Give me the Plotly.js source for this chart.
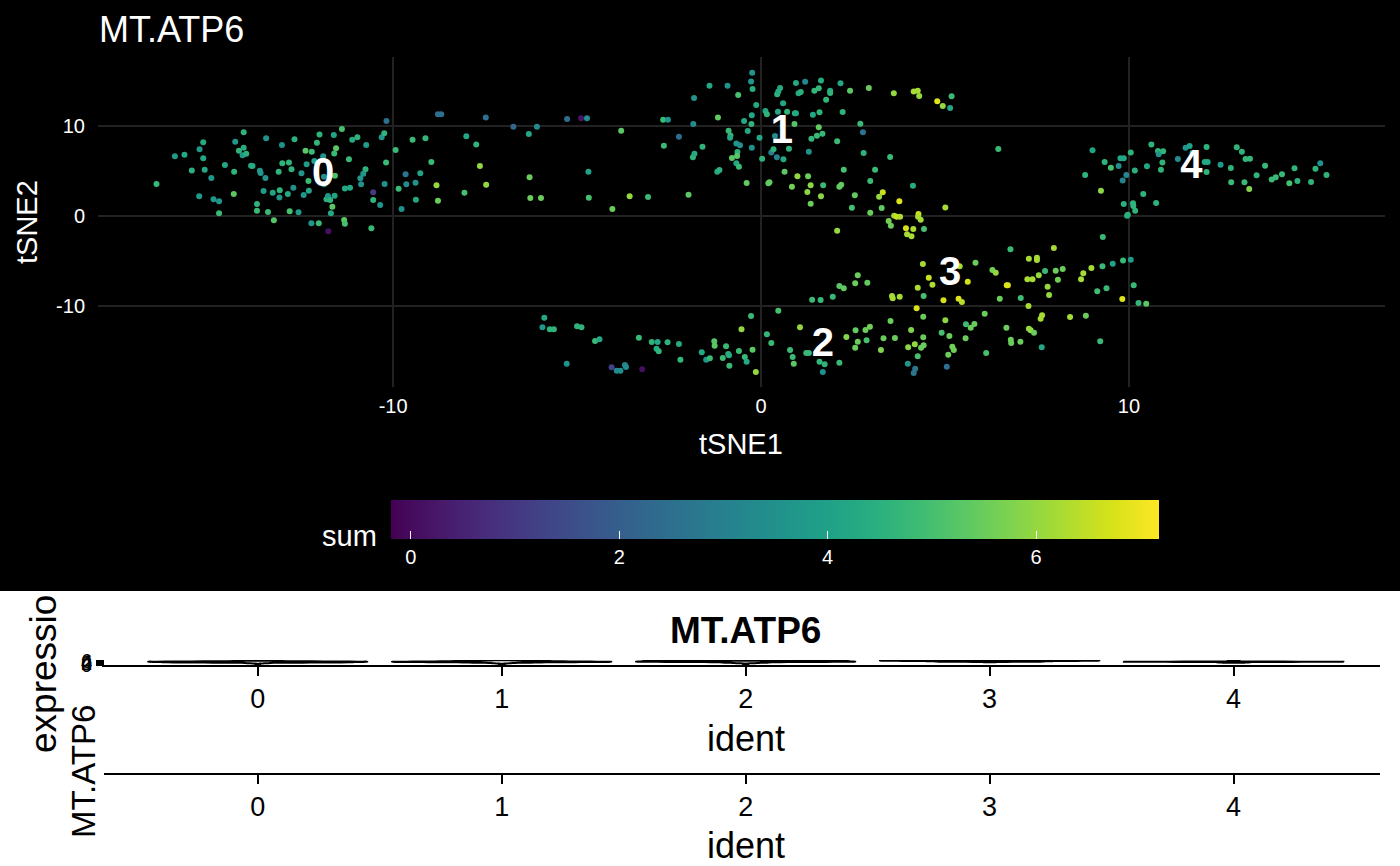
<!DOCTYPE html>
<html>
<head>
<meta charset="utf-8">
<script src="https://cdn.plot.ly/plotly-3.0.1.min.js"></script>
<style>
  html, body { margin: 0; padding: 0; background: #fff; }
  #plot { width: 1400px; height: 866px; }
</style>
</head>
<body>
<div id="plot"></div>
<script>
const leftCells = [
  [-16.43,3.56,4.8],[-15.93,6.63,3.8],[-15.67,6.81,4.2],[-15.47,5.07,4.5],[-15.26,7.41,3.7],[-15.16,8.19,4.3],
  [-15.16,6.41,4.2],[-15.12,5.15,4.2],[-15.27,2.19,3.8],[-14.94,4.22,3.7],[-14.88,1.85,3.7],[-14.73,1.63,3.6],
  [-14.73,0.3,4.8],[-14.57,5.67,4.2],[-14.32,4.93,4.6],[-14.33,2.44,5.3],[-14.29,8.26,3.7],[-14.19,7.26,4.6],
  [-14.06,9.3,4.6],[-14.06,7.59,4.4],[-14.09,6.74,3.8],[-13.99,6.93,4.5],[-13.86,5.59,4.2],[-13.82,5.56,4.3],
  [-13.62,5.04,3.7],[-13.6,4.78,3.7],[-13.47,4.22,3.6],[-13.52,2.78,3.8],[-13.45,8.63,3.5],[-13.27,2.59,4.1],
  [-13.08,2.85,4.6],[-13.09,2.07,3.6],[-13.11,4.93,4.6],[-13.02,7.89,3.5],[-13.01,5.85,4.6],[-12.83,5.96,4.6],
  [-12.76,5.19,4.6],[-12.86,2.44,4.2],[-12.71,3.15,3.5],[-12.68,8.52,4.5],[-13.7,1.33,4.6],[-13.7,0.59,4.8],
  [-13.4,0.44,4.8],[-13.24,-0.48,5.2],[-12.81,0.52,5.0],[-12.57,0.41,3.8]
];
const midLeftCells = [
  [-12.49,4.74,3.7],[-12.35,5.74,3.8],[-12.3,3.89,4.8],[-12.29,2.81,4.2],[-12.43,2.33,3.7],[-12.38,7.26,5.3],
  [-12.21,7.15,4.8],[-12.07,8.15,4.7],[-12.0,9.07,4.6],[-12.14,6.11,4.0],[-11.9,6.63,3.6],[-11.88,4.37,3.5],
  [-11.88,3.52,3.6],[-11.61,9.0,4.1],[-11.39,9.67,5.0],[-11.55,7.52,5.3],[-11.6,6.96,4.8],[-11.58,4.48,5.0],
  [-11.81,1.85,4.5],[-11.77,2.22,3.7],[-11.71,1.78,4.6],[-11.59,2.26,4.1],[-11.65,1.04,5.3],[-11.69,0.3,4.2],
  [-11.76,-1.7,0.1],[-12.02,-0.81,4.8],[-12.22,-0.81,3.7],[-11.33,-0.44,5.3],[-11.31,-0.85,5.0],[-11.31,3.07,4.2],
  [-11.17,3.15,4.2],[-11.2,6.3,4.8],[-11.11,8.48,4.3],[-10.97,8.74,4.6],[-10.73,7.89,3.8],[-10.75,5.19,4.6],
  [-10.81,4.7,3.6],[-10.89,4.19,3.6],[-10.87,3.52,3.5],[-10.54,1.78,4.6],[-10.54,2.63,1.0],[-10.35,1.22,3.6],
  [-10.59,-1.37,4.8],[-10.23,3.56,3.5],[-10.19,5.96,4.8],[-10.31,8.74,3.6],[-10.24,9.19,4.6],[-10.18,10.56,2.5],
  [-9.93,7.33,4.8],[-9.85,3.04,4.8],[-9.77,0.78,3.5],[-9.66,4.63,2.7],[-9.64,3.52,3.3],[-9.47,8.48,4.8],
  [-9.12,8.63,4.7],[-9.39,3.7,3.5],[-9.26,4.74,4.1],[-9.38,1.81,4.2],[-8.96,6.0,4.8],[-8.82,3.41,6.0],
  [-8.78,1.7,5.5],[-8.78,11.3,2.5],[-8.69,11.3,2.5],[-8.01,8.85,4.2],[-7.74,7.96,4.6],[-7.64,5.56,6.0],
  [-8.06,2.59,5.0],[-7.47,3.48,6.0],[-7.48,10.96,2.5],[-6.73,9.93,2.2],[-6.31,9.11,4.2],[-6.09,9.93,3.3],
  [-6.29,4.3,5.5],[-6.27,2.0,5.5],[-5.98,2.0,5.5]
];
const topCells = [
  [-5.27,10.78,2.4],[-4.89,10.85,0.2],[-4.73,10.85,3.4],[-3.8,9.48,5.3],[-4.69,4.93,4.0],[-4.68,2.04,5.0],
  [-4.04,0.78,5.5],[-3.57,2.19,6.0],[-3.07,2.11,4.8],[-2.66,10.7,4.8],[-2.53,10.7,3.6],[-2.64,7.81,4.8],
  [-2.23,8.81,2.4],[-1.97,2.37,5.3],[-1.82,13.11,3.6],[-1.84,10.22,3.4],[-1.59,7.7,4.6],[-1.85,6.52,4.6],
  [-1.81,6.93,4.3],[-1.4,14.48,4.2],[-1.17,10.96,5.4],[-1.19,4.93,4.2],[-1.13,5.11,4.5],[-0.91,14.48,3.5],
  [-0.62,13.44,5.0],[-0.88,9.48,4.8],[-0.83,8.96,4.7],[-0.84,8.7,4.2],[-0.67,8.07,3.6],[-0.57,7.85,3.4],
  [-0.64,7.11,4.6],[-0.65,6.67,5.3],[-0.79,6.44,5.3],[-0.67,5.85,4.2],[-0.6,5.48,4.8],[-0.46,10.56,4.2],
  [-0.36,9.44,4.2],[-0.25,11.19,4.2],[-0.26,10.22,4.6],[-0.24,15.93,3.6],[-0.27,14.96,3.6],[-0.23,14.11,4.4],
  [-0.13,12.33,4.2],[-0.25,7.59,3.5],[-0.04,8.7,4.2],[0.03,6.37,4.6],[-0.39,3.67,5.4],[0.2,3.63,5.4],
  [0.23,3.74,5.4],[0.12,11.67,4.2],[0.16,11.3,4.6],[0.28,7.07,3.0],[0.34,7.41,4.6],[0.38,8.89,3.4],
  [0.43,6.52,3.0],[0.61,6.3,4.2],[0.46,11.59,4.2],[0.6,12.52,4.2],[0.71,11.59,4.6],[0.44,13.52,4.6],
  [0.47,13.85,4.3],[0.52,14.22,4.3],[0.95,14.78,4.2],[1.2,14.93,3.2],[1.02,13.63,4.2],[1.08,13.78,4.5],
  [0.92,11.41,4.6],[0.95,11.41,4.2],[0.91,10.22,5.2],[0.76,7.48,4.6],[0.64,4.93,5.3],[0.99,4.41,6.0],
  [0.84,3.26,5.6],[1.28,4.41,5.5],[1.35,3.41,5.9],[1.26,2.67,5.9],[1.35,1.37,5.5],[1.3,7.15,3.5],
  [1.37,8.59,4.7],[1.41,11.26,4.2],[1.59,11.52,4.6],[1.57,9.85,5.4],[1.52,8.93,4.8],[1.67,9.15,4.7],
  [1.57,14.19,4.7],[1.45,13.93,4.7],[1.63,15.07,4.3],[1.77,12.93,4.7],[1.88,13.93,4.3],[1.88,13.67,4.6],
  [2.16,14.74,4.2],[2.22,11.56,4.6],[2.42,13.93,5.3],[2.93,14.22,5.5],[2.07,8.3,4.8],[1.69,3.41,4.8],
  [1.63,2.19,5.9],[2.25,5.15,5.0],[2.13,3.26,5.4],[2.18,3.48,5.4],[2.55,2.3,5.4],[2.47,0.93,5.0],
  [2.7,10.26,4.8],[2.77,9.3,2.6],[2.79,7.0,4.6],[3.1,5.15,4.8],[2.97,3.89,4.8],[2.97,0.37,5.5],
  [3.51,6.56,4.8],[3.61,13.63,6.0],[4.15,13.85,6.2],[4.26,13.93,6.2],[4.3,13.33,6.0],[4.79,12.74,6.8],
  [4.94,12.22,6.0],[5.14,12.0,4.2],[5.18,13.3,4.8],[3.21,2.15,6.0],[3.31,2.63,6.6],[3.28,0.89,5.4],
  [3.76,1.63,6.8],[4.13,3.37,4.3],[3.62,0.04,6.2],[3.69,-0.07,6.6],[3.78,-0.07,6.3],[3.47,-0.56,5.6],
  [3.53,-1.07,5.5],[3.94,-1.37,6.7],[4.14,-1.44,6.3],[3.97,-2.04,6.2],[4.09,-2.26,6.2],[4.28,0.22,6.6],
  [4.27,-0.07,6.3],[4.34,-0.41,6.2],[4.43,-1.44,5.0],[5.01,0.96,6.2],[2.07,-1.63,6.0]
];
const rightCells = [
  [6.45,7.44,4.8],[9.01,7.3,4.1],[8.81,4.56,4.6],[9.24,2.81,5.9],[9.34,6.0,4.6],[9.51,5.37,5.0],
  [9.72,5.56,3.4],[9.77,6.41,4.2],[9.86,6.41,4.2],[10.05,7.07,4.6],[9.83,3.96,3.0],[9.93,4.56,3.2],
  [10.16,5.07,4.5],[10.39,2.44,4.6],[9.86,1.33,4.5],[10.11,1.41,4.6],[10.12,1.11,4.6],[10.17,0.59,4.6],
  [9.95,0.04,4.5],[9.97,0.15,4.5],[10.49,5.52,4.2],[10.61,7.96,4.6],[10.74,1.44,4.6],[10.79,7.22,4.6],
  [10.81,6.85,3.5],[10.93,7.19,4.6],[10.91,5.96,4.6],[10.87,5.15,4.6],[11.33,6.33,3.4],[11.54,7.59,3.6],
  [11.65,7.78,4.0],[11.73,7.0,4.6],[12.11,7.67,4.6],[12.06,6.0,4.2],[12.14,6.0,4.2],[12.11,4.89,4.6],
  [12.49,5.7,3.8],[12.77,5.33,4.6],[12.78,3.74,4.8],[12.93,7.63,4.6],[13.07,7.15,4.6],[13.14,3.74,4.8],
  [13.17,6.33,4.7],[13.29,6.37,4.7],[13.27,3.0,5.8],[13.47,4.52,4.6],[13.7,5.59,4.8],[13.88,4.07,4.8],
  [13.99,4.3,4.8],[14.16,4.63,4.8],[14.36,3.63,5.0],[14.5,5.3,4.6],[14.58,3.89,4.6],[14.95,3.78,4.6],
  [15.07,5.26,4.6],[15.2,5.85,3.5],[15.37,4.56,4.6]
];
const lowerLeftCells = [
  [-5.89,-11.3,4.2],[-5.94,-12.37,3.7],[-5.74,-12.59,4.6],[-5.63,-12.59,4.6],[-5.0,-12.26,4.6],[-4.88,-12.37,4.6],
  [-4.51,-13.89,4.8],[-4.39,-13.7,4.2],[-5.28,-16.41,3.5],[-4.06,-16.81,1.2],[-3.92,-17.19,3.3],[-3.82,-17.19,3.4],
  [-3.7,-16.56,3.0],[-3.67,-16.78,3.3],[-3.23,-17.04,0.1],[-3.32,-13.52,4.8],[-2.97,-14.0,4.6],[-2.81,-14.0,4.2],
  [-2.54,-14.04,4.6],[-2.23,-14.22,4.3],[-2.84,-14.74,4.3],[-2.78,-15.04,4.6],[-2.19,-15.96,4.7],[-1.61,-15.15,4.2],
  [-1.49,-15.96,3.7],[-1.39,-15.81,4.8],[-1.27,-13.93,5.2],[-1.26,-14.41,5.3],[-0.95,-14.48,4.8],[-1.04,-15.78,4.8],
  [-0.89,-15.33,4.6],[-0.87,-15.48,4.3],[-0.86,-16.63,4.8],[-0.6,-15.0,4.8],[-0.44,-15.67,4.8],[-0.39,-16.19,4.2],
  [-0.23,-14.85,5.3],[-0.14,-17.33,6.0],[-0.53,-12.59,6.0],[-0.27,-11.11,4.8],[0.47,-10.52,5.0],[0.16,-13.15,4.7],
  [0.28,-14.11,4.8],[0.79,-14.89,4.8],[0.86,-15.67,4.8],[0.89,-16.41,5.3],[1.06,-12.37,6.0],[1.23,-15.22,4.8],
  [1.3,-15.22,4.8],[1.39,-9.3,4.8],[1.62,-9.33,4.8],[1.59,-16.19,4.7]
];
const lowerRightCells = [
  [1.95,-8.96,4.8],[1.68,-17.33,3.5],[1.73,-16.48,4.6],[2.13,-16.3,4.8],[2.13,-7.78,5.3],[2.25,-8.04,5.4],
  [2.56,-7.48,5.5],[2.63,-6.59,5.5],[2.89,-7.41,5.4],[2.57,-12.7,5.4],[2.84,-12.67,5.5],[2.96,-12.3,5.6],
  [2.32,-13.44,5.8],[2.63,-13.96,5.5],[2.56,-14.63,5.5],[2.87,-13.81,5.0],[3.26,-14.89,5.8],[3.33,-13.59,5.5],
  [3.64,-13.56,5.5],[3.52,-11.67,5.5],[3.56,-8.89,6.2],[3.58,-9.15,6.2],[3.77,-8.96,6.2],[4.0,-14.59,5.9],
  [4.08,-12.67,5.8],[4.18,-14.26,6.0],[4.35,-14.63,5.5],[4.42,-14.37,5.5],[4.41,-13.48,5.5],[4.26,-15.59,5.0],
  [3.99,-16.41,3.6],[4.19,-16.96,2.7],[4.15,-17.44,2.7],[5.05,-16.74,2.5],[4.23,-10.26,6.8],[4.26,-7.96,6.3],
  [4.4,-5.33,6.2],[4.42,-8.89,5.0],[4.41,-11.19,5.5],[4.56,-6.85,6.6],[4.66,-7.63,6.3],[4.96,-9.37,6.7],
  [5.01,-11.59,5.9],[4.91,-12.96,5.0],[5.12,-13.33,5.5],[5.2,-14.52,5.6],[5.24,-14.89,5.6],[5.09,-15.41,5.5],
  [5.4,-5.59,6.2],[5.62,-7.3,6.7],[5.37,-9.19,6.8],[5.46,-9.56,6.4],[5.83,-5.19,5.5],[5.57,-12.04,4.9],
  [5.7,-12.41,5.5],[5.8,-12.0,5.5],[5.56,-13.59,5.5],[6.08,-10.85,5.5],[6.12,-15.22,5.0],[6.29,-6.0,5.6],
  [6.38,-6.3,6.0],[6.49,-9.19,5.5],[6.67,-12.41,5.5],[6.68,-7.7,6.8],[6.71,-7.7,6.8],[6.78,-3.7,4.8],
  [6.79,-13.74,5.5],[6.8,-14.11,5.5],[7.06,-9.11,4.9],[7.05,-13.96,5.5],[7.24,-7.04,6.2],[7.27,-10.0,6.2],
  [7.38,-7.04,6.2],[7.28,-4.74,6.2],[7.5,-4.63,6.2],[7.5,-4.89,6.2],[7.55,-6.59,6.0],[7.28,-12.52,6.0],
  [7.33,-12.7,6.0],[7.42,-12.96,5.5],[7.6,-11.41,6.2],[7.64,-11.04,6.2],[7.63,-14.59,4.2],[7.72,-6.11,4.8],
  [7.79,-7.85,6.0],[7.83,-8.78,6.0],[7.96,-3.56,6.2],[8.01,-6.07,5.5],[8.07,-7.07,5.6],[8.2,-5.89,5.5],
  [8.4,-11.22,6.2],[8.7,-7.04,6.2],[8.76,-6.37,6.2],[8.83,-11.07,5.5],[8.98,-5.78,6.2],[9.14,-8.37,4.9],
  [9.22,-13.93,4.8],[9.28,-5.59,4.8],[9.29,-2.33,4.8],[9.39,-8.04,4.8],[9.56,-5.3,4.0],[9.82,-9.22,6.8],
  [9.84,-4.93,4.8],[10.05,-4.85,3.8],[10.13,-7.7,4.8],[10.26,-9.67,4.7],[10.47,-9.74,5.3]
];

const clusterLabels = ["0", "1", "2", "3", "4"];
const clusterX = [-11.9, 0.57, 1.68, 5.14, 11.7];
const clusterY = [4.44, 9.2, -14.4, -6.6, 5.3];
const tsneTicks = [-10, 0, 10];
const colorTicks = [0, 2, 4, 6];
const colorLimits = [-0.19, 7.18];
const exprTicks = [0, 2, 4, 6];

const W = 1400;
const H = 866;
const px = (p) => p / W;
const py = (p) => 1 - p / H;
const FONT = "Liberation Sans, Arial, sans-serif";

const cells = [].concat(leftCells, midLeftCells, topCells, rightCells, lowerLeftCells, lowerRightCells);
const tsne1 = cells.map((c) => c[0]);
const tsne2 = cells.map((c) => c[1]);
const sums = cells.map((c) => c[2]);

// ident of each cell = nearest cluster label position
const idents = cells.map((c) => {
  let best = 0;
  let bestDist = Infinity;
  clusterX.forEach((cx, i) => {
    const d = (c[0] - cx) ** 2 + (c[1] - clusterY[i]) ** 2;
    if (d < bestDist) {
      bestDist = d;
      best = i;
    }
  });
  return clusterLabels[best];
});

// one violin trace per ident so each one gets its own full width
const violins = clusterLabels.map((label) => {
  const vals = sums.filter((_, i) => idents[i] === label);
  return {
    type: "violin",
    x: vals.map(() => label),
    y: vals,
    xaxis: "x2",
    yaxis: "y2",
    width: 0.9,
    scalemode: "width",
    scalegroup: "ident" + label,
    spanmode: "hard",
    points: false,
    line: { color: "#000000", width: 2 },
    fillcolor: "#ffffff",
    showlegend: false,
    hoverinfo: "skip"
  };
});

const data = [
  {
    type: "scatter",
    mode: "markers",
    x: tsne1,
    y: tsne2,
    xaxis: "x",
    yaxis: "y",
    marker: {
      size: 6,
      color: sums,
      colorscale: "Viridis",
      cmin: colorLimits[0],
      cmax: colorLimits[1],
      line: { width: 0 },
      colorbar: {
        orientation: "h",
        x: px(775),
        xanchor: "center",
        y: py(500),
        yanchor: "top",
        len: 768,
        lenmode: "pixels",
        thickness: 39,
        thicknessmode: "pixels",
        xpad: 0,
        ypad: 0,
        outlinewidth: 0,
        tickvals: colorTicks,
        ticktext: colorTicks.map(String),
        ticks: "inside",
        ticklen: 8,
        tickwidth: 1,
        tickcolor: "#ffffff",
        tickfont: { family: FONT, size: 20, color: "#ffffff" }
      }
    },
    showlegend: false,
    hoverinfo: "skip"
  },
  {
    type: "scatter",
    mode: "text",
    x: clusterX,
    y: clusterY,
    text: clusterLabels,
    textfont: { family: FONT, size: 40, color: "#ffffff", weight: "bold" },
    xaxis: "x",
    yaxis: "y",
    showlegend: false,
    hoverinfo: "skip"
  }
].concat(violins, [
  {
    type: "scatter",
    mode: "markers",
    x: clusterLabels,
    y: clusterLabels.map(() => 0),
    xaxis: "x3",
    yaxis: "y3",
    marker: { opacity: 0 },
    showlegend: false,
    hoverinfo: "skip"
  }
]);

const darkAxis = {
  tickvals: tsneTicks,
  ticktext: tsneTicks.map(String),
  showgrid: true,
  gridcolor: "#222222",
  gridwidth: 2,
  zeroline: false,
  showline: false,
  ticks: "outside",
  tickcolor: "rgba(0,0,0,0)",
  tickfont: { family: FONT, size: 20, color: "#ffffff" }
};

const identAxis = {
  type: "category",
  categoryorder: "array",
  categoryarray: clusterLabels,
  range: [-0.63, 4.6],
  domain: [px(104), px(1380)],
  showgrid: false,
  zeroline: false,
  showline: true,
  linecolor: "#000000",
  linewidth: 2,
  ticks: "outside",
  ticklen: 9,
  tickwidth: 2,
  tickcolor: "#000000",
  tickfont: { family: FONT, size: 27, color: "#000000" }
};

const ann = (text, x, y, size, opts = {}) => Object.assign({
  text: text,
  x: x,
  y: y,
  xref: "paper",
  yref: "paper",
  showarrow: false,
  xanchor: "center",
  yanchor: "middle",
  font: { family: FONT, size: size, color: "#ffffff" }
}, opts);

const blackFont = (size) => ({ family: FONT, size: size, color: "#000000" });

const layout = {
  width: W,
  height: H,
  margin: { l: 0, r: 0, t: 0, b: 0, pad: 0 },
  paper_bgcolor: "#ffffff",
  plot_bgcolor: "rgba(0,0,0,0)",
  font: { family: FONT },
  showlegend: false,
  violinmode: "overlay",
  xaxis: Object.assign({}, darkAxis, {
    domain: [px(98), px(1385)],
    range: [-18.02, 16.96],
    ticklen: 1,
    anchor: "y"
  }),
  yaxis: Object.assign({}, darkAxis, {
    domain: [py(387), py(57)],
    range: [-19.0, 17.67],
    ticklen: 8,
    anchor: "x"
  }),
  xaxis2: Object.assign({}, identAxis, { anchor: "y2" }),
  yaxis2: {
    domain: [py(665), py(660)],
    range: [-0.3, 7.3],
    anchor: "x2",
    tickvals: exprTicks,
    ticktext: exprTicks.map(String),
    showgrid: false,
    zeroline: false,
    showline: true,
    linecolor: "#000000",
    linewidth: 2,
    ticks: "outside",
    ticklen: 6,
    tickwidth: 2,
    tickcolor: "#000000",
    tickfont: { family: FONT, size: 20, color: "#000000" }
  },
  xaxis3: Object.assign({}, identAxis, { anchor: "y3" }),
  yaxis3: {
    domain: [py(773), py(772)],
    range: [0, 1],
    anchor: "x3",
    visible: false
  },
  shapes: [
    {
      type: "rect",
      xref: "paper",
      yref: "paper",
      x0: 0,
      x1: 1,
      y0: py(591),
      y1: 1,
      fillcolor: "#000000",
      line: { width: 0 },
      layer: "below"
    }
  ],
  annotations: [
    ann("MT.ATP6", px(97), py(29), 36, { xanchor: "left" }),
    ann("tSNE1", px(741), py(444), 29),
    ann("tSNE2", px(27), py(222), 29, { textangle: -90 }),
    ann("sum", px(379), py(536), 29, { xanchor: "right" }),
    ann("<b>MT.ATP6</b>", px(746), py(630), 37, { font: blackFont(37) }),
    ann("expressio", px(43), py(755), 37, { textangle: -90, yanchor: "bottom", font: blackFont(37) }),
    ann("MT.ATP6", px(83), py(772), 33, { textangle: -90, font: blackFont(33) }),
    ann("ident", px(746), py(738), 36, { font: blackFont(36) }),
    ann("ident", px(746), py(845), 36, { font: blackFont(36) })
  ]
};

Plotly.newPlot("plot", data, layout, { displayModeBar: false, staticPlot: true });
</script>
</body>
</html>
